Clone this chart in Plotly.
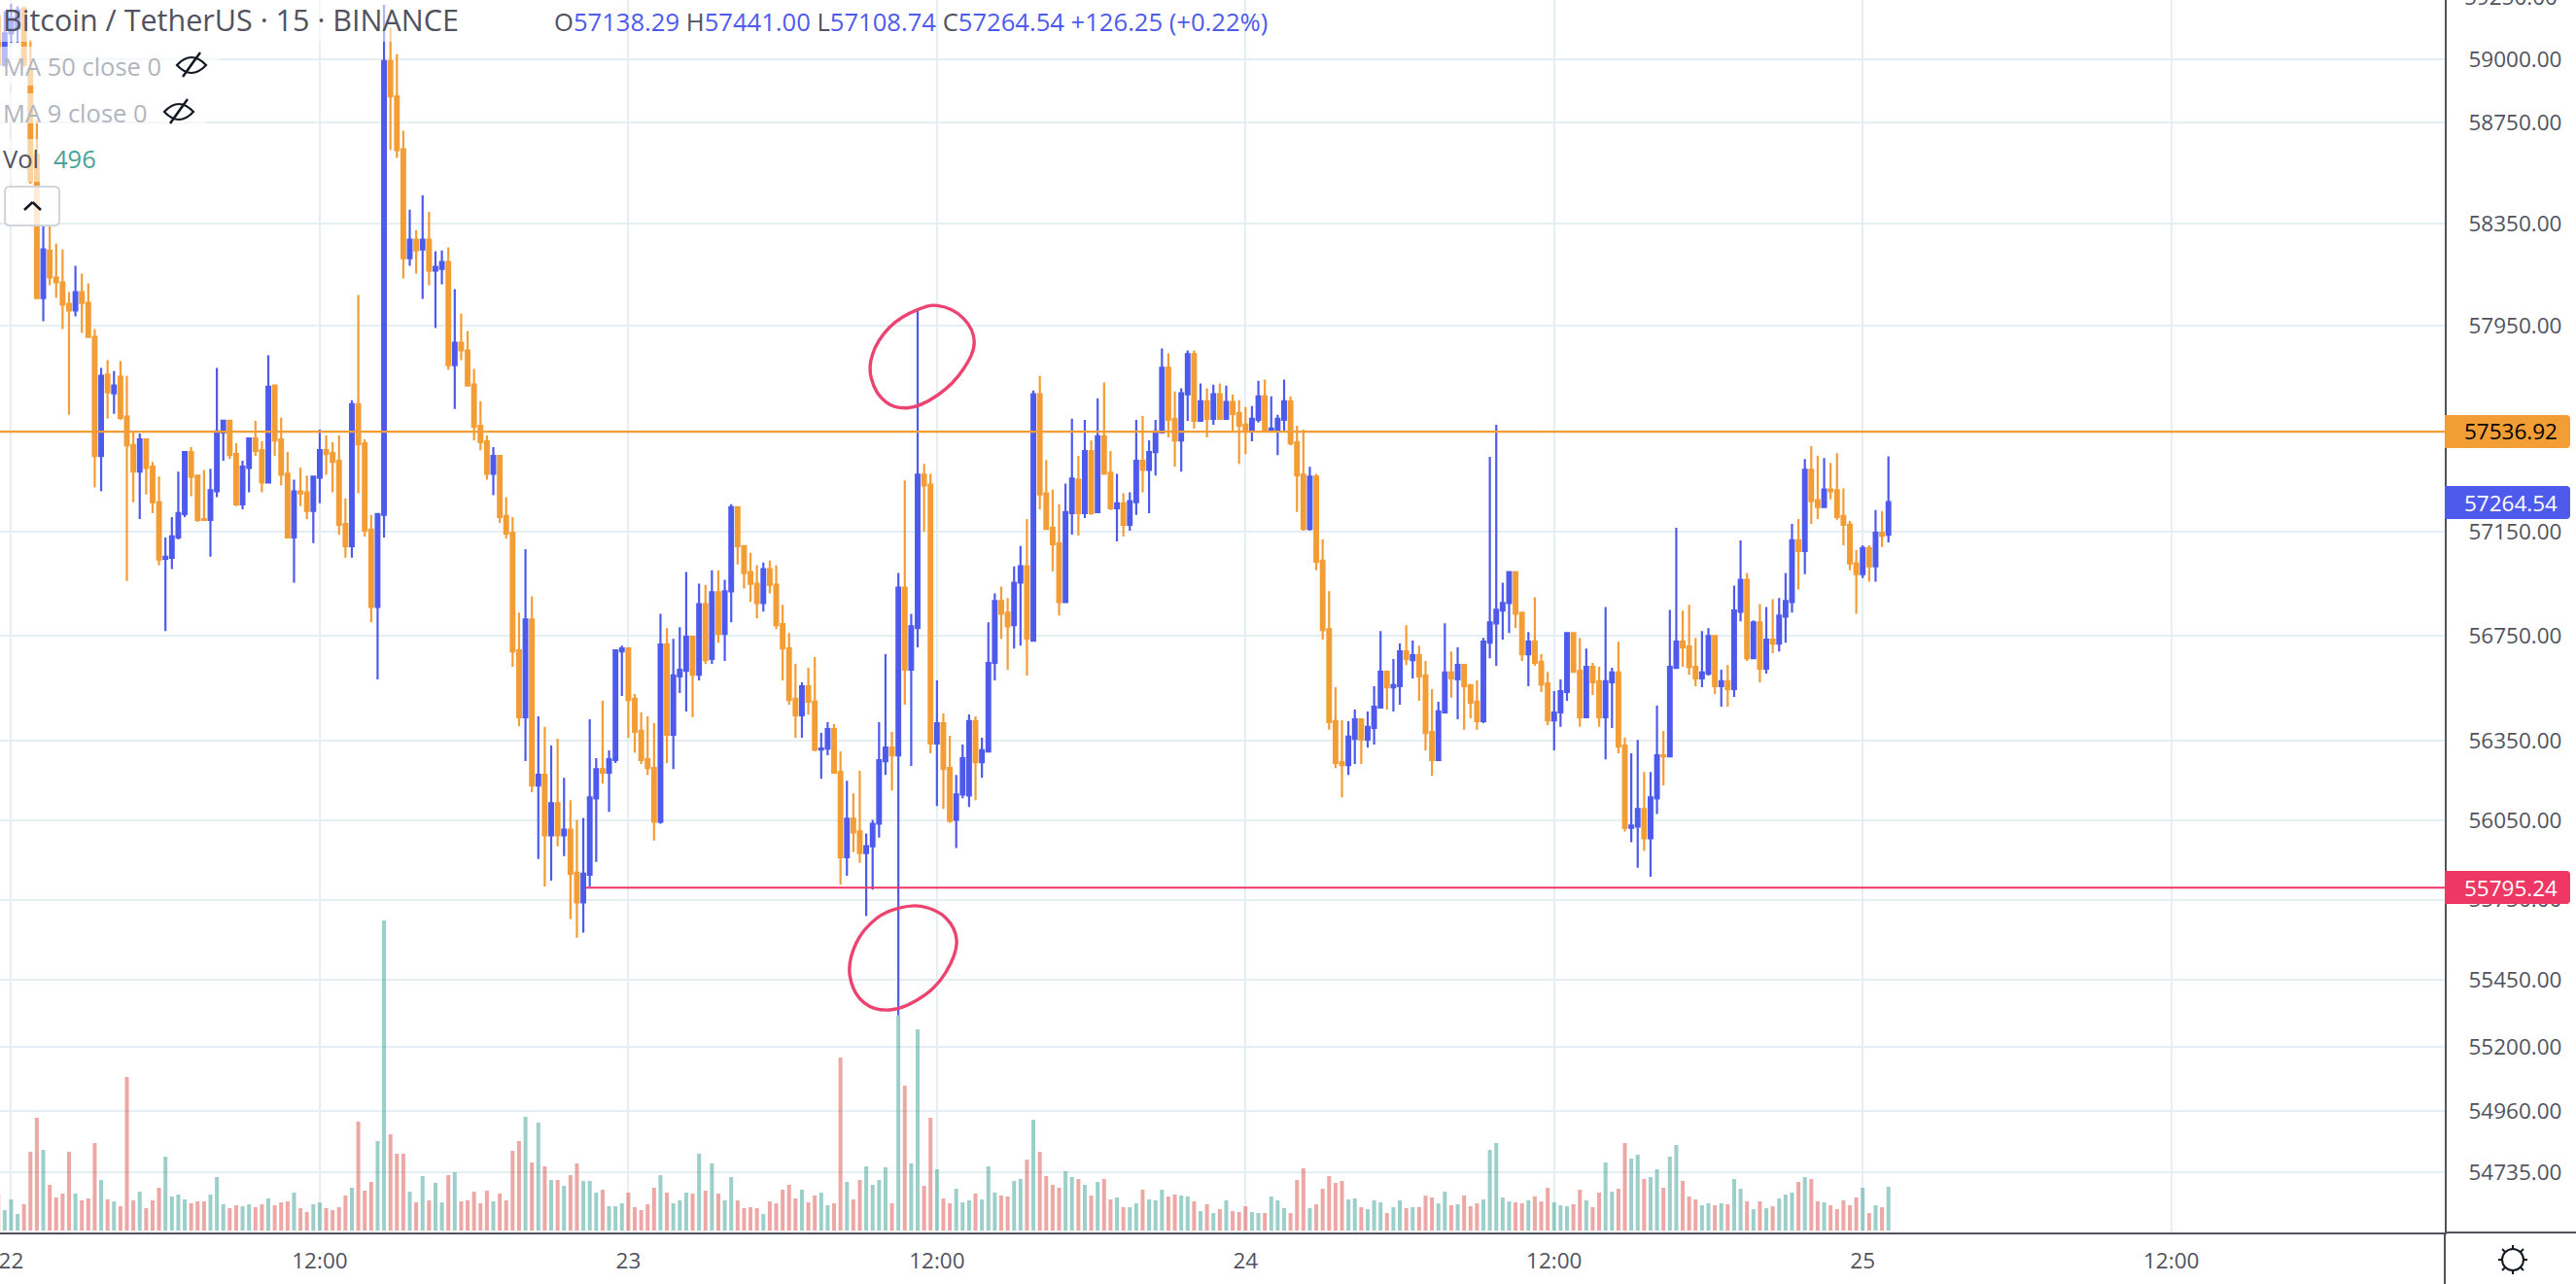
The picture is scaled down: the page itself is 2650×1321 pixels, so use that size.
import math
import pandas as pd
import plotly.graph_objects as go

OPEN = [
59172,58978,59103,59122,59202,58955,58621,58058,58244,58138,
58119,58035,58009,58081,58039,57906,57443,57758,57686,57750,
57595,57484,57382,57507,57401,57264,57046,57050,57128,57218,
57458,57367,57199,57196,57306,57534,57579,57450,57256,57397,
57511,57465,57340,57716,57507,57374,57128,57306,57302,57230,
57359,57465,57454,57424,57180,57095,57644,57492,57158,56861,
57215,58993,58852,58643,58214,58286,58248,58286,58165,58172,
58199,57796,57883,57853,57720,57560,57500,57374,57443,57211,
57146,56695,56440,56813,56181,56221,55992,56114,55992,56014,
55851,55740,55844,56132,56243,56229,56277,56691,56702,56510,
56388,56280,56247,56044,56717,56373,56595,56617,56747,56602,
56872,56662,56917,56758,56921,57245,57095,56995,56950,56876,
57006,56946,56795,56702,56510,56447,56558,56499,56317,56321,
56395,56232,55910,56055,56007,55925,55951,56036,56273,56325,
56295,56935,56621,56780,57370,57332,56340,56417,56247,56051,
56147,56143,56425,56269,56310,56647,56884,56839,56791,56954,
57017,56732,57682,57298,57165,57106,56880,57222,57351,57222,
57462,57226,57519,57378,57241,57260,57177,57264,57424,57389,
57458,57534,57785,57587,57503,57682,57838,57579,57655,57587,
57682,57587,57652,57610,57564,57538,57583,57674,57538,57545,
57583,57655,57496,57370,57161,57363,57039,56776,56425,56269,
56258,56358,56432,56355,56399,56477,56613,56554,56558,56691,
56658,56676,56599,56384,56277,56458,56610,56584,56639,56562,
56499,56425,56724,56798,56847,56876,56995,56839,56680,56728,
56651,56569,56428,56458,56536,56761,56617,56440,56632,56577,
56440,56573,56610,56332,56021,56025,56092,55981,56132,56295,
56291,56628,56728,56710,56632,56588,56606,56750,56558,56577,
56547,56843,56965,56665,56802,56625,56736,56721,56824,56880,
57117,57076,57389,57272,57245,57313,57310,57211,57177,57028,
56987,57087,57017,57146,57138.29,
]
HIGH = [
59210,59191,59221,59210,59210,59077,58757,58343,58343,58271,
58248,58081,58184,58153,58115,57937,57785,57815,57773,57811,
57754,57538,57530,57507,57420,57363,57128,57207,57382,57462,
57477,57367,57389,57393,57785,57583,57579,57492,57424,57511,
57579,57500,57834,57720,57591,57458,57351,57397,57367,57363,
57545,57522,57496,57522,57279,57659,58070,57507,57215,57222,
59217,59126,59020,58716,58404,58324,58461,58396,58241,58244,
58256,58092,57997,57929,57781,57655,57522,57477,57443,57283,
57207,56839,57083,56902,56443,56403,56332,56358,56210,56125,
56051,56058,56432,56284,56502,56314,56699,56713,56702,56528,
56458,56443,56417,56835,56780,56739,56784,56995,56747,56950,
56946,57002,57002,56965,57256,57245,57095,57069,57021,57032,
57039,57021,56869,56761,56643,56573,56628,56669,56380,56421,
56414,56310,56199,56151,56236,55999,56051,56421,56680,56384,
56991,57348,56835,58016,57412,57374,56580,56454,56369,56221,
56336,56451,56443,56362,56802,56913,56939,56895,57017,57095,
57199,57697,57754,57427,57313,57256,57336,57587,57443,57583,
57503,57667,57728,57462,57374,57298,57302,57583,57598,57503,
57583,57861,57842,57693,57705,57853,57853,57724,57705,57720,
57724,57716,57682,57659,57633,57636,57735,57739,57674,57602,
57739,57674,57560,57545,57401,57374,57120,56921,56554,56428,
56425,56469,56432,56462,56558,56769,56613,56662,56721,56791,
56732,56713,56654,56547,56499,56798,56691,56706,56639,56562,
56580,56743,57439,57564,56954,56998,56995,56843,56765,56898,
56680,56613,56539,56584,56761,56761,56743,56702,56647,56632,
56861,56628,56728,56362,56303,56354,56232,56232,56484,56388,
56850,57165,56847,56869,56743,56769,56780,56750,56621,56639,
56943,57117,56991,56810,56872,56861,56891,56895,56991,57180,
57199,57431,57481,57443,57435,57416,57454,57317,57192,57080,
57098,57098,57234,57230,57441.00,
]
LOW = [
58978,58971,59065,59065,58971,58507,58058,57967,58108,58058,
57937,57602,57986,57921,57902,57321,57306,57587,57606,57583,
56961,57264,57199,57294,57222,57021,56769,57006,57120,57207,
57287,57188,57192,57054,57283,57424,57431,57249,57237,57302,
57443,57302,57340,57443,57329,57128,56954,57249,57199,57106,
57260,57370,57302,57139,57050,57050,57298,57132,56802,56584,
57128,58640,58609,58134,58184,58153,58054,58108,57940,58111,
57777,57625,57815,57716,57503,57465,57351,57291,57184,57124,
56632,56406,56273,56155,55903,55800,55822,55951,55914,55677,
55607,55626,55800,55892,56188,56081,56266,56521,56362,56306,
56262,56221,55973,56036,56266,56243,56532,56462,56440,56580,
56643,56643,56724,56654,56802,57024,56932,56880,56817,56843,
56913,56776,56580,56488,56362,56362,56451,56310,56206,56295,
56229,55807,55840,55929,55888,55688,55788,55984,56221,56162,
55316,56488,56255,56706,57150,56303,56103,56092,56040,55944,
56132,56099,56125,56210,56310,56580,56739,56621,56702,56713,
56599,56732,57237,57158,56998,56828,56880,57139,57135,57203,
57215,57226,57370,57234,57113,57132,57154,57215,57302,57222,
57367,57534,57515,57401,57382,57579,57549,57579,57515,57564,
57587,57587,57534,57412,57450,57500,57572,57534,57538,57446,
57541,57484,57226,57154,57154,57002,56736,56392,56247,56136,
56221,56262,56262,56325,56336,56477,56469,56462,56488,56639,
56588,56502,56314,56218,56273,56458,56514,56432,56392,56436,
56392,56417,56665,56636,56736,56761,56780,56654,56558,56636,
56536,56410,56314,56403,56502,56613,56403,56440,56525,56403,
56280,56399,56303,56007,55966,55870,55933,55836,56073,56181,
56291,56628,56632,56602,56558,56554,56599,56528,56480,56480,
56517,56806,56654,56665,56573,56606,56684,56691,56724,56839,
56928,56987,57180,57199,57245,57275,57196,57098,57002,56835,
56972,56958,56958,57091,57108.74,
]
CLOSE = [
58978,59103,59164,59195,58978,58518,58058,58248,58138,58119,
58032,58009,58081,58039,57906,57443,57754,57690,57716,57591,
57484,57382,57507,57397,57264,57043,57054,57132,57222,57458,
57363,57196,57196,57310,57538,57579,57446,57256,57401,57511,
57462,57340,57712,57503,57370,57128,57306,57298,57230,57363,
57465,57450,57420,57177,57095,57644,57488,57154,56861,57218,
58993,58852,58640,58214,58286,58244,58286,58165,58180,58199,
57796,57883,57853,57716,57557,57496,57374,57443,57207,57143,
56691,56440,56813,56181,56221,55992,56114,55992,56014,55848,
55740,55848,56136,56243,56229,56280,56695,56702,56506,56384,
56277,56247,56044,56717,56373,56599,56621,56747,56602,56872,
56658,56917,56758,56921,57245,57095,56991,56950,56876,57006,
56946,56791,56702,56506,56447,56558,56499,56317,56321,56395,
56229,55910,56055,56003,55925,55951,56036,56277,56325,56295,
56935,56621,56787,57370,57329,56340,56417,56243,56047,56147,
56284,56425,56269,56314,56647,56884,56835,56787,56954,57017,
56739,57682,57294,57161,57102,56880,57226,57355,57222,57462,
57222,57519,57374,57241,57260,57177,57268,57424,57389,57458,
57538,57785,57583,57503,57686,57838,57579,57655,57587,57682,
57587,57652,57606,57560,57538,57587,57674,57538,57549,57587,
57655,57492,57367,57161,57363,57035,56773,56421,56266,56258,
56366,56432,56355,56403,56480,56613,56554,56562,56691,56662,
56676,56595,56380,56277,56462,56610,56588,56639,56558,56495,
56425,56728,56802,56850,56876,56995,56835,56680,56728,56647,
56565,56428,56458,56539,56761,56613,56440,56632,56573,56440,
56577,56610,56329,56021,56029,56092,55981,56136,56295,56291,
56632,56728,56706,56632,56588,56610,56750,56558,56577,56547,
56847,56965,56665,56802,56625,56736,56721,56828,56884,57117,
57076,57389,57268,57245,57313,57306,57207,57177,57028,56987,
57087,57017,57146,57135,57264.54,
]
VOLUME = [
418,231,352,187,297,891,1276,913,517,374,
418,891,418,341,363,990,572,352,330,275,
1738,341,440,253,341,484,836,385,407,352,
308,330,330,407,605,297,253,286,275,297,
264,297,363,286,319,330,429,253,209,297,
319,253,231,264,396,484,1232,451,550,1012,
3509,1089,869,869,440,319,616,341,539,319,
627,660,330,341,440,308,451,330,418,341,
902,1012,1287,770,1221,726,572,572,506,627,
759,561,561,429,462,275,275,308,429,264,
231,297,484,627,429,308,341,429,418,869,
451,759,418,341,605,341,253,264,253,187,
330,308,462,517,363,462,319,396,429,286,
308,1958,550,352,572,726,517,572,715,308,
2431,1639,759,2277,506,1276,693,363,308,473,
319,341,418,352,726,429,396,385,561,583,
803,1254,891,616,517,484,671,605,583,517,
396,550,583,352,374,264,264,308,462,352,
341,462,385,407,396,385,330,220,297,198,
242,341,220,209,275,209,198,198,385,341,
253,198,572,704,253,297,473,616,539,561,
352,363,264,242,341,319,198,264,341,253,
264,264,396,374,308,440,286,297,396,275,
308,352,913,990,374,330,319,308,341,385,
330,484,319,286,275,297,462,341,264,429,
770,440,473,990,814,858,583,605,693,484,
836,968,561,385,352,286,308,286,308,297,
583,473,330,242,330,253,275,363,407,429,
550,605,583,330,319,286,242,341,286,374,
484,198,286,264,496,
]
PRICE_TICKS = [59000,58750,58350,57950,57150,56750,56350,56050,55750,55450,55200,54960,54735]
TIME_TICKS = ["2021-11-22 00:00","2021-11-22 12:00","2021-11-23 00:00","2021-11-23 12:00",
              "2021-11-24 00:00","2021-11-24 12:00","2021-11-25 00:00","2021-11-25 12:00"]
TIME_LABELS = ["22","12:00","23","12:00","24","12:00","25","12:00"]
RESISTANCE = 57536.92
SUPPORT = 55795.24
LAST = 57264.54
RING_TOP_T = ["2021-11-23 12:01","2021-11-23 13:02","2021-11-23 13:27","2021-11-23 13:02","2021-11-23 12:01",
              "2021-11-23 10:51","2021-11-23 10:01","2021-11-23 09:27","2021-11-23 09:29","2021-11-23 10:10","2021-11-23 11:16","2021-11-23 12:01"]
RING_TOP_P = [58028,57978,57887,57781,57678,57629,57652,57743,57834,57944,58013,58028]
RING_LOW_T = ["2021-11-23 11:23","2021-11-23 12:21","2021-11-23 12:46","2021-11-23 12:21","2021-11-23 11:32",
              "2021-11-23 10:10","2021-11-23 09:11","2021-11-23 08:37","2021-11-23 08:51","2021-11-23 09:40","2021-11-23 10:30","2021-11-23 11:23"]
RING_LOW_P = [55725,55681,55596,55478,55393,55337,55363,55463,55585,55681,55718,55725]

BLUE = "#4E5AEC"
ORANGE = "#F39D36"
PINK = "#EE3764"
INK = "#50535E"
GRID = "#E5EEF2"
FONT = "Open Sans"

times = [t.strftime("%Y-%m-%d %H:%M") for t in pd.date_range("2021-11-21 23:30", periods=len(CLOSE), freq="15min")]
vol_colors = ["rgba(60,160,150,0.5)" if c >= o else "rgba(220,80,75,0.5)" for o, c in zip(OPEN, CLOSE)]

fig = go.Figure()
fig.add_trace(go.Bar(x=times, y=VOLUME, marker=dict(color=vol_colors, line_width=0), width=544000, yaxis="y", hoverinfo="skip"))
fig.add_trace(go.Candlestick(
    x=times, open=OPEN, high=HIGH, low=LOW, close=CLOSE, yaxis="y2", whiskerwidth=0,
    increasing=dict(line=dict(color=BLUE, width=2.2), fillcolor=BLUE),
    decreasing=dict(line=dict(color=ORANGE, width=2.2), fillcolor=ORANGE),
))
fig.add_trace(go.Scatter(x=["2021-11-21 23:00", "2021-11-26 00:00"], y=[RESISTANCE, RESISTANCE], mode="lines",
                         line=dict(color=ORANGE, width=2.2), yaxis="y2", hoverinfo="skip"))
fig.add_trace(go.Scatter(x=["2021-11-22 22:21", "2021-11-26 00:00"], y=[SUPPORT, SUPPORT], mode="lines",
                         line=dict(color=PINK, width=2), yaxis="y2", hoverinfo="skip"))
for tt, pp in ((RING_TOP_T, RING_TOP_P), (RING_LOW_T, RING_LOW_P)):
    fig.add_trace(go.Scatter(x=tt, y=pp, mode="lines", line=dict(color="#EC4470", width=3.4, shape="spline", smoothing=1.1),
                             yaxis="y2", hoverinfo="skip"))

PLOT_W, PLOT_H = 2515, 1268
def X(px): return px / PLOT_W
def Y(py): return 1 - py / PLOT_H

shapes = []
def seg(x0, y0, x1, y1, color=INK, width=2):
    shapes.append(dict(type="line", xref="paper", yref="paper", x0=X(x0), y0=Y(y0), x1=X(x1), y1=Y(y1),
                       line=dict(color=color, width=width), layer="above"))
def patch(x0, y0, x1, y1, opacity):
    shapes.append(dict(type="rect", xref="paper", yref="paper", x0=X(x0), y0=Y(y0), x1=X(x1), y1=Y(y1),
                       fillcolor="white", opacity=opacity, line_width=0, layer="above"))
def tag(y0, y1, color):
    r = 4
    x0, x1 = 2515, 2644
    path = (f"M {X(x0)} {Y(y0)} L {X(x1-r)} {Y(y0)} Q {X(x1)} {Y(y0)} {X(x1)} {Y(y0+r)} "
            f"L {X(x1)} {Y(y1-r)} Q {X(x1)} {Y(y1)} {X(x1-r)} {Y(y1)} L {X(x0)} {Y(y1)} Z")
    shapes.append(dict(type="path", xref="paper", yref="paper", path=path, fillcolor=color, line_width=0, layer="above"))
def eye(cx, cy):
    path = (f"M {X(cx-15)} {Y(cy)} Q {X(cx)} {Y(cy-16)} {X(cx+15)} {Y(cy)} "
            f"Q {X(cx)} {Y(cy+16)} {X(cx-15)} {Y(cy)} Z")
    shapes.append(dict(type="path", xref="paper", yref="paper", path=path, line=dict(color="#131722", width=2.2), layer="above"))
    seg(cx+9, cy-13, cx-9, cy+12, "#131722", 2.4)
    seg(cx+5, cy-8, cx-4, cy+5, "#131722", 2)

patch(0, 0, 490, 43, 0.55)
patch(0, 48, 226, 88, 0.6)
patch(0, 96, 212, 127, 0.6)
patch(0, 143, 100, 187, 0.55)

# right-hand and bottom frame pieces
seg(2515, 1268, 2650, 1268)
seg(2515, 1268, 2515, 1321)
tag(427, 461, ORANGE)
tag(500, 534, BLUE)
tag(896, 930, PINK)
eye(197, 67)
eye(184, 115)

# collapse button
path = (f"M {X(10)} {Y(192)} L {X(56)} {Y(192)} Q {X(61)} {Y(192)} {X(61)} {Y(197)} L {X(61)} {Y(227)} "
        f"Q {X(61)} {Y(232)} {X(56)} {Y(232)} L {X(10)} {Y(232)} Q {X(5)} {Y(232)} {X(5)} {Y(227)} "
        f"L {X(5)} {Y(197)} Q {X(5)} {Y(192)} {X(10)} {Y(192)} Z")
shapes.append(dict(type="path", xref="paper", yref="paper", path=path, fillcolor="rgba(255,255,255,0.8)",
                   line=dict(color="#D1D4DC", width=2), layer="above"))
seg(25, 216, 33.5, 208, "#131722", 2.6)
seg(33.5, 208, 42, 216, "#131722", 2.6)

# gear/sun glyph
shapes.append(dict(type="circle", xref="paper", yref="paper", x0=X(2574), y0=Y(1285), x1=X(2596), y1=Y(1307),
                   line=dict(color="#131722", width=2), layer="above"))
for dx, dy, ex, ey in ((0, -11, 0, -15), (0, 11, 0, 15), (-11, 0, -15, 0), (11, 0, 15, 0),
                       (-8, -8, -11, -11), (8, -8, 11, -11), (-8, 8, -11, 11), (8, 8, 11, 11)):
    seg(2585+dx, 1296+dy, 2585+ex, 1296+ey, "#131722", 2)

def note(px, py, text, size=22.5, color=INK, anchor="left"):
    return dict(x=X(px), y=Y(py), xref="paper", yref="paper", text=text, showarrow=False, xanchor=anchor, yanchor="middle",
                font=dict(family=FONT, size=size, color=color), align="left", borderpad=0, borderwidth=0)

num = lambda s: f'<span style="color:{BLUE}">{s}</span>'
annotations = [
    note(3, 20, "Bitcoin / TetherUS · 15 · BINANCE", 30.5, INK),
    note(570, 22, "O" + num("57138.29") + " H" + num("57441.00") + " L" + num("57108.74") + " C" + num("57264.54") + " " + num("+126.25 (+0.22%)"), 25.6, INK),
    note(3, 68, "MA 50 close 0", 25.5, "#B2B5BE"),
    note(3, 116, "MA 9 close 0", 25.5, "#B2B5BE"),
    note(3, 163, "Vol", 25.5, INK),
    note(55, 163, "496", 25.5, "#4AA397"),
    note(2582.5, 443, "57536.92", 22.5, "#000000", "center"),
    note(2582.5, 517, "57264.54", 22.5, "#FFFFFF", "center"),
    note(2582.5, 913, "55795.24", 22.5, "#FFFFFF", "center"),
    note(2535, -3.5, "59250.00", 22.5, INK),
]

fig.update_layout(
    width=2650, height=1321, autosize=False, showlegend=False,
    margin=dict(l=0, r=135, t=0, b=53, pad=0),
    paper_bgcolor="white", plot_bgcolor="white",
    barmode="overlay", boxgap=0.2,
    shapes=shapes, annotations=annotations,
    font=dict(family=FONT, size=22.5, color=INK),
    xaxis=dict(type="date", range=["2021-11-21 23:34", "2021-11-25 22:38"], rangeslider=dict(visible=False),
               tickmode="array", tickvals=TIME_TICKS, ticktext=TIME_LABELS, ticks="", tickangle=0,
               ticklabeloverflow="allow",
               showgrid=True, gridcolor=GRID, gridwidth=2, showline=True, linecolor=INK, linewidth=2, mirror=False,
               zeroline=False, ticklabelstandoff=8, tickfont=dict(family=FONT, size=22.5, color=INK)),
    yaxis=dict(range=[-22, 13926], visible=False, showgrid=False, zeroline=False),
    yaxis2=dict(type="log", overlaying="y", side="right", anchor="x",
                range=[math.log10(54513), math.log10(59236)],
                tickmode="array", tickvals=PRICE_TICKS, ticktext=[f"{v:.2f}" for v in PRICE_TICKS], ticks="",
                showgrid=True, gridcolor=GRID, gridwidth=2, showline=True, linecolor=INK, linewidth=2,
                zeroline=False, ticklabelstandoff=18, tickfont=dict(family=FONT, size=22.5, color=INK)),
)
fig.write_html("out.html", config={"displayModeBar": False},
               post_script="document.body.style.margin='0';document.body.style.overflow='hidden';")
